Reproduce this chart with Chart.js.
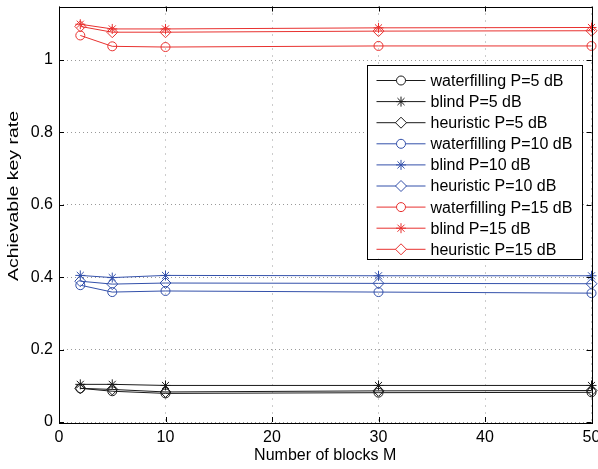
<!DOCTYPE html>
<html>
<head>
<meta charset="utf-8">
<script src="https://cdn.jsdelivr.net/npm/chart.js@4"></script>
<style>
  html, body { margin: 0; padding: 0; background: #fff; }
  #wrap { width: 598px; height: 469px; }
</style>
</head>
<body>
<div id="wrap"><canvas id="chart" width="598" height="469"></canvas></div>
<script>
// data
const blocksM = [2, 5, 10, 30, 50];
const xTicks = [0, 10, 20, 30, 40, 50];
const yTicks = [0, 0.2, 0.4, 0.6, 0.8, 1];

const wf5    = [0.093, 0.085, 0.079, 0.081, 0.082];
const blind5 = [0.104, 0.104, 0.101, 0.101, 0.101];
const heur5  = [0.093, 0.090, 0.083, 0.086, 0.087];

const wf10    = [0.378, 0.359, 0.362, 0.359, 0.356];
const blind10 = [0.405, 0.399, 0.405, 0.404, 0.404];
const heur10  = [0.389, 0.381, 0.384, 0.383, 0.382];

const wf15    = [1.068, 1.038, 1.036, 1.039, 1.039];
const blind15 = [1.099, 1.086, 1.086, 1.089, 1.090];
const heur15  = [1.093, 1.077, 1.077, 1.080, 1.081];

const seriesNames = [
  "waterfilling P=5 dB", "blind P=5 dB", "heuristic P=5 dB",
  "waterfilling P=10 dB", "blind P=10 dB", "heuristic P=10 dB",
  "waterfilling P=15 dB", "blind P=15 dB", "heuristic P=15 dB"
];
const seriesValues = [wf5, blind5, heur5, wf10, blind10, heur10, wf15, blind15, heur15];

const BLACK = "#1a1a1a", BLUE = "#3350aa", RED = "#e8312f";
const colors = [BLACK, BLACK, BLACK, BLUE, BLUE, BLUE, RED, RED, RED];
const markers = ["circle", "star", "rectRot"];
const markerSize = { circle: 4.5, star: 5, rectRot: 5.5 };

const FONT = "'Liberation Sans', Arial, Helvetica, sans-serif";
const yTitle = "Achievable key rate";

const datasets = seriesValues.map((vals, i) => {
  const ps = markers[i % 3];
  return {
    label: seriesNames[i],
    data: blocksM.map((m, j) => ({ x: m, y: vals[j] })),
    borderColor: colors[i],
    backgroundColor: "rgba(0,0,0,0)",
    borderWidth: 1,
    pointStyle: ps,
    pointRadius: markerSize[ps],
    pointBorderWidth: 1,
    pointBorderColor: colors[i],
    pointBackgroundColor: "rgba(0,0,0,0)",
    tension: 0,
    clip: false
  };
});

// frame, inward ticks, y label and the boxed legend
const matlabAxes = {
  id: "matlabAxes",
  afterDraw(chart) {
    const ctx = chart.ctx;
    const a = chart.chartArea;
    const xs = chart.scales.x, ys = chart.scales.y;
    ctx.save();
    ctx.strokeStyle = "#000";
    ctx.lineWidth = 1;
    ctx.setLineDash([]);
    ctx.strokeRect(Math.round(a.left) + 0.5, Math.round(a.top) + 0.5,
                   Math.round(a.right - a.left), Math.round(a.bottom - a.top));
    ctx.beginPath();
    xTicks.forEach(v => {
      const px = Math.round(xs.getPixelForValue(v)) + 0.5;
      ctx.moveTo(px, a.bottom); ctx.lineTo(px, a.bottom - 5);
      ctx.moveTo(px, a.top); ctx.lineTo(px, a.top + 5);
    });
    yTicks.forEach(v => {
      const py = Math.round(ys.getPixelForValue(v)) + 0.5;
      ctx.moveTo(a.left, py); ctx.lineTo(a.left + 5, py);
      ctx.moveTo(a.right, py); ctx.lineTo(a.right - 5, py);
    });
    ctx.stroke();

    // y axis label (stretched along its length like the source figure)
    ctx.save();
    ctx.translate(14, 196);
    ctx.rotate(-Math.PI / 2);
    ctx.scale(1.3, 1);
    ctx.font = "15px " + FONT;
    ctx.fillStyle = "#000";
    ctx.textAlign = "center";
    ctx.textBaseline = "middle";
    ctx.fillText(yTitle, 0, 0);
    ctx.restore();

    // legend
    const bx = a.right - 225, by = a.top + 58, bw = 215, bh = 194;
    ctx.fillStyle = "#fff";
    ctx.fillRect(bx, by, bw, bh);
    ctx.strokeStyle = "#000";
    ctx.strokeRect(Math.round(bx) + 0.5, Math.round(by) + 0.5, bw, bh);
    ctx.font = "16px " + FONT;
    ctx.textBaseline = "middle";
    chart.data.datasets.forEach((ds, i) => {
      const y = by + 16 + i * 21.1;
      const x0 = bx + 10, x1 = bx + 59;
      ctx.strokeStyle = ds.borderColor;
      ctx.lineWidth = 1;
      ctx.beginPath();
      ctx.moveTo(x0, y); ctx.lineTo(x1, y);
      ctx.stroke();
      ctx.fillStyle = "#fff";
      Chart.helpers.drawPoint(ctx, {
        pointStyle: ds.pointStyle, radius: ds.pointRadius, rotation: 0, borderWidth: 1
      }, (x0 + x1) / 2, y);
      ctx.fillStyle = "#000";
      ctx.fillText(ds.label, bx + 64, y + 1);
    });
    ctx.restore();
  }
};

new Chart(document.getElementById("chart"), {
  type: "line",
  data: { datasets: datasets },
  options: {
    responsive: false,
    animation: false,
    layout: { padding: { top: 3, right: 6, left: 0, bottom: 0 } },
    plugins: {
      legend: { display: false },
      tooltip: { enabled: false }
    },
    scales: {
      x: {
        type: "linear",
        min: 0, max: 50,
        afterBuildTicks: s => { s.ticks = xTicks.map(v => ({ value: v })); },
        afterFit: s => { s.height = 47; s.paddingRight = 6; s.paddingLeft = 0; },
        ticks: { color: "#000", font: { family: FONT, size: 16 }, padding: 6, maxRotation: 0 },
        grid: { color: "#999", drawTicks: false, lineWidth: 1 },
        border: { display: false, dash: [1, 6] },
        title: { display: true, text: "Number of blocks M", color: "#000",
                 font: { family: FONT, size: 16 }, padding: { top: 0, bottom: 4 } }
      },
      y: {
        type: "linear",
        min: 0, max: 1.148,
        afterBuildTicks: s => { s.ticks = yTicks.map(v => ({ value: v })); },
        afterFit: s => { s.width = 59; s.paddingTop = 0; s.paddingBottom = 0; },
        ticks: { color: "#000", font: { family: FONT, size: 16 }, padding: 6,
                 callback: v => String(Math.round(v * 10) / 10) },
        grid: { color: "#999", drawTicks: false, lineWidth: 1 },
        border: { display: false, dash: [1, 3] },
        title: { display: false }
      }
    }
  },
  plugins: [matlabAxes]
});
</script>
</body>
</html>
